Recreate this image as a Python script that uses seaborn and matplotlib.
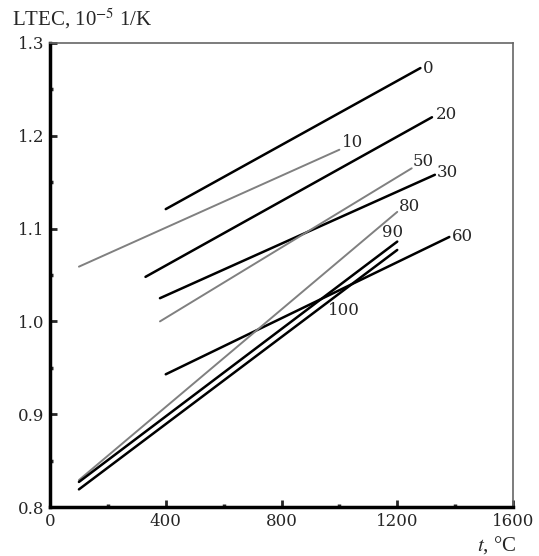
import pandas as pd
import matplotlib
matplotlib.use('Agg')
import matplotlib.pyplot as plt
import seaborn as sns
from matplotlib.ticker import MultipleLocator

# curve labels and endpoints
series = ['0', '10', '20', '30', '50', '60', '80', '90', '100']
t_start = [400, 100, 330, 380, 380, 400, 100, 100, 100]
t_end = [1280, 1000, 1320, 1330, 1250, 1380, 1200, 1200, 1200]
ltec_start = [1.121, 1.059, 1.048, 1.025, 1.000, 0.943, 0.829, 0.827, 0.819]
ltec_end = [1.273, 1.185, 1.220, 1.158, 1.165, 1.091, 1.118, 1.086, 1.077]
colors = ['black', 'gray', 'black', 'black', 'gray', 'black', 'gray', 'black', 'black']

# label offsets (points) next to the line ends
label_off = {'0': (2, 0), '10': (1.5, 5), '20': (3, 2), '30': (1, 1.5), '50': (1, 5),
             '60': (1.5, 0), '80': (1, 3.6), '90': (4, 6.5)}

rows = []
for s, t0, t1, v0, v1 in zip(series, t_start, t_end, ltec_start, ltec_end):
    rows.append({'serie': s, 't': t0, 'ltec': v0})
    rows.append({'serie': s, 't': t1, 'ltec': v1})
df = pd.DataFrame(rows)

sns.set_style('ticks')
plt.rcParams['font.family'] = ['DejaVu Serif']
plt.rcParams['mathtext.fontset'] = 'stix'

fig = plt.figure(figsize=(5.39, 5.56), dpi=100)
ax = fig.add_axes([50 / 539, 1 - 507 / 556, 463 / 539, 464 / 556])

paleta = dict(zip(series, colors))
larguras = {s: (1.8 if c == 'black' else 1.4) for s, c in zip(series, colors)}
for s in series:
    sns.lineplot(data=df[df['serie'] == s], x='t', y='ltec', color=paleta[s],
                 linewidth=larguras[s], ax=ax, legend=False)

# labels at the line ends
for s, t1, v1 in zip(series, t_end, ltec_end):
    if s == '100':
        ax.text(1017, 1.012, '100', fontsize=12, ha='center', va='center')
        continue
    dx, dy = label_off[s]
    ax.annotate(s, (t1, v1), xytext=(dx, dy), textcoords='offset points',
                fontsize=12, ha='right' if s == '90' else 'left', va='center')

ax.set_xlim(0, 1600)
ax.set_ylim(0.8, 1.3)
ax.xaxis.set_major_locator(MultipleLocator(400))
ax.xaxis.set_minor_locator(MultipleLocator(200))
ax.yaxis.set_major_locator(MultipleLocator(0.1))
ax.yaxis.set_minor_locator(MultipleLocator(0.05))
ax.set_yticklabels([f'{v:.1f}' for v in ax.get_yticks()])
ax.tick_params(which='major', direction='in', length=5, width=2, labelsize=12, pad=4)
ax.tick_params(which='minor', direction='in', length=2, width=2.5)
ax.tick_params(top=False, right=False, which='both')
ax.set_xlabel('')
ax.set_ylabel('')

for lado in ['left', 'bottom']:
    ax.spines[lado].set_linewidth(2.5)
    ax.spines[lado].set_color('black')
for lado in ['top', 'right']:
    ax.spines[lado].set_linewidth(1.2)
    ax.spines[lado].set_color('#666666')

fig.text(12 / 539, 1 - 19 / 556, 'LTEC, 10$^{-5}$ 1/K', fontsize=15,
         family='Liberation Serif', va='center', ha='left')
fig.text(516 / 539, 1 - 545 / 556, '$t$, °C', fontsize=15,
         family='Liberation Serif', va='center', ha='right')

fig.savefig('out.png', dpi=100)
